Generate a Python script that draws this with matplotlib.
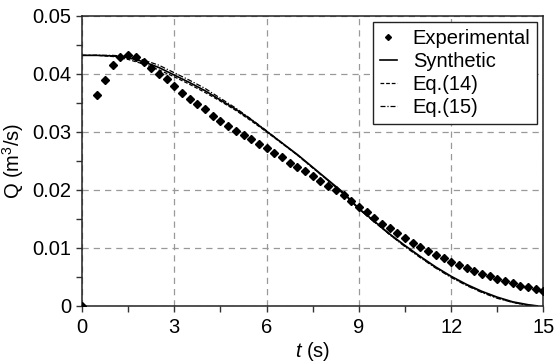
import matplotlib
matplotlib.use("Agg")
import matplotlib.pyplot as plt
from matplotlib.ticker import MultipleLocator

plt.rcParams['font.family'] = ['Liberation Sans', 'DejaVu Sans']
plt.rcParams['mathtext.fontset'] = 'custom'
plt.rcParams['mathtext.it'] = 'Liberation Sans:italic'
plt.rcParams['mathtext.rm'] = 'Liberation Sans'

# experimental discharge
t_exp = [0, 0.5, 0.75, 1.0, 1.25, 1.5, 1.75, 2.0, 2.25, 2.5, 2.75, 3.0, 3.25, 3.5, 3.75,
         4.0, 4.25, 4.5, 4.75, 5.0, 5.25, 5.5, 5.75, 6.0, 6.25, 6.5, 6.75, 7.0, 7.25, 7.5,
         7.75, 8.0, 8.25, 8.5, 8.75, 9.0, 9.25, 9.5, 9.75, 10.0, 10.25, 10.5, 10.75, 11.0,
         11.25, 11.5, 11.75, 12.0, 12.25, 12.5, 12.75, 13.0, 13.25, 13.5, 13.75, 14.0,
         14.25, 14.5, 14.75, 15.0]
q_exp = [0, 0.0363, 0.0390, 0.0415, 0.0429, 0.0432, 0.0429, 0.0421, 0.0411, 0.0400,
         0.0391, 0.0379, 0.0367, 0.0356, 0.0348, 0.0339, 0.0328, 0.0319, 0.0311, 0.0302,
         0.0295, 0.0287, 0.0279, 0.0272, 0.0264, 0.0256, 0.0247, 0.0239, 0.0232, 0.0224,
         0.0216, 0.0207, 0.0200, 0.0191, 0.0181, 0.0171, 0.0162, 0.0152, 0.0142, 0.0134,
         0.0126, 0.0117, 0.0108, 0.0101, 0.0095, 0.0088, 0.0082, 0.0076, 0.0071, 0.0065,
         0.0060, 0.0055, 0.0051, 0.0046, 0.0043, 0.0039, 0.0035, 0.0032, 0.0029, 0.0026]

# model curves
t_mod = [0, 0.5, 1.0, 1.5, 2.0, 2.5, 3.0, 3.5, 4.0, 4.5, 5.0, 5.5, 6.0, 6.5, 7.0, 7.5,
         8.0, 8.5, 9.0, 9.5, 10.0, 10.5, 11.0, 11.5, 12.0, 12.5, 13.0, 13.5, 14.0, 14.5, 14.8]
q_syn = [0.0432, 0.0432, 0.0431, 0.0428, 0.0421, 0.0411, 0.0398, 0.0385, 0.0371, 0.0355,
         0.0339, 0.0321, 0.0301, 0.0281, 0.0261, 0.0239, 0.0217, 0.0195, 0.0168, 0.0146,
         0.0124, 0.0104, 0.0085, 0.0067, 0.0051, 0.0037, 0.0025, 0.0015, 0.0007, 0.0002, 0.0]
q_eq14 = [0.0432, 0.0432, 0.0430, 0.0425, 0.0417, 0.0407, 0.0395, 0.0382, 0.0368, 0.0353,
          0.0337, 0.0319, 0.0300, 0.0280, 0.0260, 0.0238, 0.0216, 0.0193, 0.0167, 0.0145,
          0.0123, 0.0103, 0.0084, 0.0066, 0.0050, 0.0036, 0.0024, 0.0014, 0.0006, 0.0001, 0.0]
q_eq15 = [0.0432, 0.0432, 0.0432, 0.0430, 0.0424, 0.0415, 0.0402, 0.0389, 0.0375, 0.0358,
          0.0341, 0.0322, 0.0302, 0.0281, 0.0260, 0.0238, 0.0216, 0.0193, 0.0167, 0.0145,
          0.0123, 0.0102, 0.0083, 0.0065, 0.0049, 0.0035, 0.0023, 0.0013, 0.0006, 0.0001, 0.0]

fig = plt.figure(figsize=(5.56, 3.62), dpi=100)
ax = fig.add_axes([0.1475, 0.155, 0.83, 0.801])

ax.plot(t_exp, q_exp, 'D', color='black', markersize=4.3, label='Experimental', zorder=4)
ax.plot(t_mod, q_syn, '-', color='black', lw=1.2, label='Synthetic')
ax.plot(t_mod, q_eq14, '--', color='black', lw=0.9, dashes=(3, 1.5), label='Eq.(14)')
ax.plot(t_mod, q_eq15, '-.', color='black', lw=0.9, dashes=(4, 1.5, 1, 1.5), label='Eq.(15)')

ax.set_xlim(0, 15)
ax.set_ylim(0, 0.05)
ax.xaxis.set_major_locator(MultipleLocator(3))
ax.xaxis.set_minor_locator(MultipleLocator(1.5))
ax.yaxis.set_minor_locator(MultipleLocator(0.005))
ax.set_yticks([0, 0.01, 0.02, 0.03, 0.04, 0.05])
ax.set_yticklabels(['0', '0.01', '0.02', '0.03', '0.04', '0.05'])
ax.tick_params(which='both', direction='out', labelsize=14.5, width=1, color='#333333',
               length=4, top=False, right=False)
ax.tick_params(axis='x', pad=5)
ax.grid(True, which='major', linestyle=(0, (5, 4)), color='#999999', lw=0.9)
for s in ax.spines.values():
    s.set_color('#222222')
    s.set_linewidth(1.1)

ax.set_xlabel('$t$ (s)', fontsize=14.5, labelpad=2)
ax.set_ylabel('Q (m$^3$/s)', fontsize=14.5, labelpad=5)

leg = ax.legend(loc='upper right', fontsize=14.5, frameon=True, fancybox=False,
                edgecolor='#222222', framealpha=1, handlelength=0.8, handletextpad=0.8,
                labelspacing=0.2, borderpad=0.35, borderaxespad=0.3, markerscale=0.7)
leg.get_frame().set_linewidth(1.0)

fig.savefig('out.png', dpi=100)
